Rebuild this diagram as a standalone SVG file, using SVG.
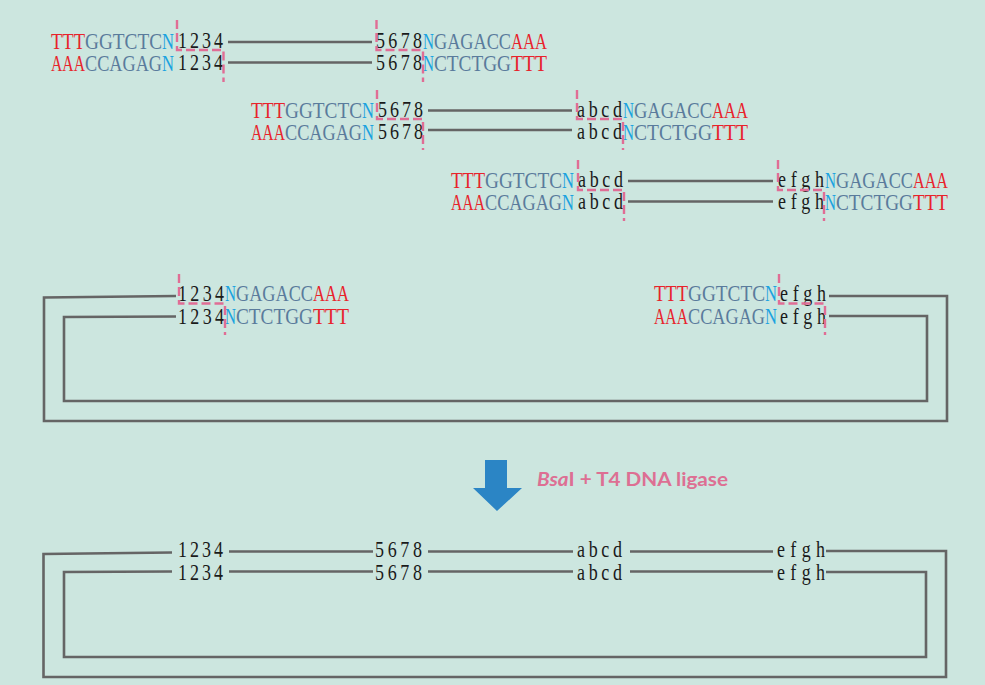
<svg xmlns="http://www.w3.org/2000/svg" width="985" height="685" viewBox="0 0 985 685">
<style>
text{font-family:"Liberation Serif","Times New Roman",serif;font-size:22.5px}
.r{fill:#e8232b}.s{fill:#5a7b9c}.n{fill:#1ba3e0}.k{fill:#1a1a1a}
.cut{fill:none;stroke:#e06d95;stroke-width:2.4;stroke-dasharray:9 4}
.dna{fill:none;stroke:#656565;stroke-width:2.6;stroke-linejoin:miter}
.lbl{font-family:Lato,"Open Sans",sans-serif;font-weight:bold;font-size:19.5px;fill:#dd6f93}
</style>
<rect width="985" height="685" fill="#cce6df"/>

<g id="connectors">
<path class="dna" d="M228 42H372M228 62.5H372"/>
<path class="dna" d="M428 110.5H572M428 130H572"/>
<path class="dna" d="M628 181H773M628 201.5H773"/>
<path class="dna" d="M176 296L44 297.5V421H947V296H829"/>
<path class="dna" d="M176 316.5L64 317V401H927V316H829"/>
<path class="dna" d="M172 552.5L43.5 554V677H946V551H826"/>
<path class="dna" d="M172 571.5L64 572V657H926V572H826"/>
<path class="dna" d="M229 551.5H373M229 571.5H373M428 551.5H573M428 571.5H573M630 551.5H773M630 571.5H773"/>
</g>

<g id="fragment1">
<text class="r" x="51" y="48.5" textLength="34" lengthAdjust="spacingAndGlyphs">TTT</text>
<text class="s" x="85" y="48.5" textLength="77" lengthAdjust="spacingAndGlyphs">GGTCTC</text>
<text class="n" x="162" y="48.5" textLength="12" lengthAdjust="spacingAndGlyphs">N</text>
<text class="r" x="51" y="70.5" textLength="34" lengthAdjust="spacingAndGlyphs">AAA</text>
<text class="s" x="85" y="70.5" textLength="77" lengthAdjust="spacingAndGlyphs">CCAGAG</text>
<text class="n" x="162" y="70.5" textLength="12" lengthAdjust="spacingAndGlyphs">N</text>
<text class="n" x="423" y="48.5" textLength="11" lengthAdjust="spacingAndGlyphs">N</text>
<text class="s" x="434" y="48.5" textLength="77" lengthAdjust="spacingAndGlyphs">GAGACC</text>
<text class="r" x="511" y="48.5" textLength="36" lengthAdjust="spacingAndGlyphs">AAA</text>
<text class="n" x="423" y="70.5" textLength="11" lengthAdjust="spacingAndGlyphs">N</text>
<text class="s" x="434" y="70.5" textLength="77" lengthAdjust="spacingAndGlyphs">CTCTGG</text>
<text class="r" x="511" y="70.5" textLength="36" lengthAdjust="spacingAndGlyphs">TTT</text>
<g transform="scale(0.8 1)">
<text class="k" x="222.5" y="48.5" textLength="56.25" lengthAdjust="spacing">1234</text>
<text class="k" x="222.5" y="70.5" textLength="56.25" lengthAdjust="spacing">1234</text>
<text class="k" x="470" y="48.5" textLength="57.5" lengthAdjust="spacing">5678</text>
<text class="k" x="470" y="70.5" textLength="57.5" lengthAdjust="spacing">5678</text>
</g>
<path class="cut" d="M177 20V50H223.5V82M376.5 20V50H423V82"/>
</g>

<g id="fragment2">
<text class="r" x="251" y="117.5" textLength="34" lengthAdjust="spacingAndGlyphs">TTT</text>
<text class="s" x="285" y="117.5" textLength="77" lengthAdjust="spacingAndGlyphs">GGTCTC</text>
<text class="n" x="362" y="117.5" textLength="12" lengthAdjust="spacingAndGlyphs">N</text>
<text class="r" x="251" y="139.5" textLength="34" lengthAdjust="spacingAndGlyphs">AAA</text>
<text class="s" x="285" y="139.5" textLength="77" lengthAdjust="spacingAndGlyphs">CCAGAG</text>
<text class="n" x="362" y="139.5" textLength="12" lengthAdjust="spacingAndGlyphs">N</text>
<text class="n" x="623" y="117.5" textLength="11" lengthAdjust="spacingAndGlyphs">N</text>
<text class="s" x="634" y="117.5" textLength="78" lengthAdjust="spacingAndGlyphs">GAGACC</text>
<text class="r" x="712" y="117.5" textLength="36" lengthAdjust="spacingAndGlyphs">AAA</text>
<text class="n" x="623" y="139.5" textLength="11" lengthAdjust="spacingAndGlyphs">N</text>
<text class="s" x="634" y="139.5" textLength="78" lengthAdjust="spacingAndGlyphs">CTCTGG</text>
<text class="r" x="712" y="139.5" textLength="36" lengthAdjust="spacingAndGlyphs">TTT</text>
<g transform="scale(0.8 1)">
<text class="k" x="472.5" y="117.5" textLength="56.25" lengthAdjust="spacing">5678</text>
<text class="k" x="472.5" y="139.5" textLength="56.25" lengthAdjust="spacing">5678</text>
<text class="k" x="721.25" y="117.5" textLength="56.25" lengthAdjust="spacing">abcd</text>
<text class="k" x="721.25" y="139.5" textLength="56.25" lengthAdjust="spacing">abcd</text>
</g>
<path class="cut" d="M377 90V119H423V150M577 90V119H623V150"/>
</g>

<g id="fragment3">
<text class="r" x="451" y="187.5" textLength="34" lengthAdjust="spacingAndGlyphs">TTT</text>
<text class="s" x="485" y="187.5" textLength="77" lengthAdjust="spacingAndGlyphs">GGTCTC</text>
<text class="n" x="562" y="187.5" textLength="12" lengthAdjust="spacingAndGlyphs">N</text>
<text class="r" x="451" y="209.5" textLength="34" lengthAdjust="spacingAndGlyphs">AAA</text>
<text class="s" x="485" y="209.5" textLength="77" lengthAdjust="spacingAndGlyphs">CCAGAG</text>
<text class="n" x="562" y="209.5" textLength="12" lengthAdjust="spacingAndGlyphs">N</text>
<text class="n" x="825" y="187.5" textLength="11" lengthAdjust="spacingAndGlyphs">N</text>
<text class="s" x="836" y="187.5" textLength="77" lengthAdjust="spacingAndGlyphs">GAGACC</text>
<text class="r" x="913" y="187.5" textLength="35" lengthAdjust="spacingAndGlyphs">AAA</text>
<text class="n" x="825" y="209.5" textLength="11" lengthAdjust="spacingAndGlyphs">N</text>
<text class="s" x="836" y="209.5" textLength="77" lengthAdjust="spacingAndGlyphs">CTCTGG</text>
<text class="r" x="913" y="209.5" textLength="35" lengthAdjust="spacingAndGlyphs">TTT</text>
<g transform="scale(0.8 1)">
<text class="k" x="722.5" y="187.5" textLength="56.25" lengthAdjust="spacing">abcd</text>
<text class="k" x="722.5" y="209.5" textLength="56.25" lengthAdjust="spacing">abcd</text>
<text class="k" x="972.5" y="187.5" textLength="57.5" lengthAdjust="spacing">efgh</text>
<text class="k" x="972.5" y="209.5" textLength="57.5" lengthAdjust="spacing">efgh</text>
</g>
<path class="cut" d="M578 160V190H624V221M778 160V190H824V221"/>
</g>

<g id="vector">
<text class="n" x="225" y="301" textLength="11" lengthAdjust="spacingAndGlyphs">N</text>
<text class="s" x="236" y="301" textLength="77" lengthAdjust="spacingAndGlyphs">GAGACC</text>
<text class="r" x="313" y="301" textLength="36" lengthAdjust="spacingAndGlyphs">AAA</text>
<text class="n" x="225" y="324" textLength="11" lengthAdjust="spacingAndGlyphs">N</text>
<text class="s" x="236" y="324" textLength="77" lengthAdjust="spacingAndGlyphs">CTCTGG</text>
<text class="r" x="313" y="324" textLength="36" lengthAdjust="spacingAndGlyphs">TTT</text>
<text class="r" x="654" y="301" textLength="34" lengthAdjust="spacingAndGlyphs">TTT</text>
<text class="s" x="688" y="301" textLength="77" lengthAdjust="spacingAndGlyphs">GGTCTC</text>
<text class="n" x="765" y="301" textLength="12" lengthAdjust="spacingAndGlyphs">N</text>
<text class="r" x="654" y="324" textLength="34" lengthAdjust="spacingAndGlyphs">AAA</text>
<text class="s" x="688" y="324" textLength="77" lengthAdjust="spacingAndGlyphs">CCAGAG</text>
<text class="n" x="765" y="324" textLength="12" lengthAdjust="spacingAndGlyphs">N</text>
<g transform="scale(0.8 1)">
<text class="k" x="222.5" y="301" textLength="57.5" lengthAdjust="spacing">1234</text>
<text class="k" x="222.5" y="324" textLength="57.5" lengthAdjust="spacing">1234</text>
<text class="k" x="975" y="301" textLength="57.5" lengthAdjust="spacing">efgh</text>
<text class="k" x="975" y="324" textLength="57.5" lengthAdjust="spacing">efgh</text>
</g>
<path class="cut" d="M179 274V303.5H225V335M779 274V303.5H825V335"/>
</g>

<g id="arrow">
<polygon points="485,460 507,460 507,488 522,488 497,511 473,488 485,488" fill="#2b85c5"/>
</g>
<g id="label">
<text class="lbl" x="537" y="486" textLength="191" lengthAdjust="spacingAndGlyphs"><tspan font-style="italic">Bsa</tspan>I + T4 DNA ligase</text>
</g>

<g id="product" transform="scale(0.8 1)">
<text class="k" x="222.5" y="557" textLength="56.25" lengthAdjust="spacing">1234</text>
<text class="k" x="222.5" y="580" textLength="56.25" lengthAdjust="spacing">1234</text>
<text class="k" x="468.75" y="557" textLength="58.75" lengthAdjust="spacing">5678</text>
<text class="k" x="468.75" y="580" textLength="58.75" lengthAdjust="spacing">5678</text>
<text class="k" x="721.25" y="557" textLength="56.25" lengthAdjust="spacing">abcd</text>
<text class="k" x="721.25" y="580" textLength="56.25" lengthAdjust="spacing">abcd</text>
<text class="k" x="971.25" y="557" textLength="60" lengthAdjust="spacing">efgh</text>
<text class="k" x="971.25" y="580" textLength="60" lengthAdjust="spacing">efgh</text>
</g>
</svg>
